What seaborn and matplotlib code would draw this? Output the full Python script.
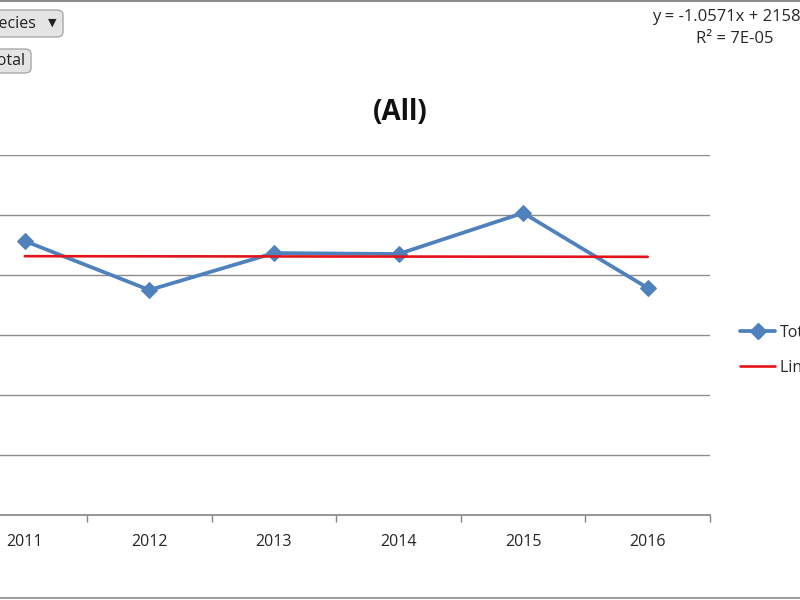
import numpy as np
import pandas as pd
import matplotlib.pyplot as plt
import seaborn as sns
from matplotlib.patches import FancyBboxPatch
from matplotlib.lines import Line2D

years = ["2011", "2012", "2013", "2014", "2015", "2016"]
totals = [2283, 1875, 2183, 2175, 2517, 1892]
y_ticks = [0, 500, 1000, 1500, 2000, 2500, 3000]

df = pd.DataFrame({"year": years, "total": totals, "pos": np.arange(len(years))})
# linear trend as Excel fits it (x = 1..n)
slope, intercept = np.polyfit(np.arange(1, len(totals) + 1), totals, 1)
df["trend"] = intercept + slope * (df["pos"] + 1)

sns.set_style("white")
plt.rcParams["font.family"] = ["Open Sans", "DejaVu Sans"]

fig = plt.figure(figsize=(8, 6), dpi=100)
ax = fig.add_axes([-37.5 / 800, 1 - 515 / 600, 747.5 / 800, 360 / 600])

sns.lineplot(data=df, x="pos", y="total", ax=ax, color="#4F81BD", linewidth=2.7,
             marker="D", markersize=8, markeredgecolor="#4F81BD", label="Total", zorder=3)
sns.lineplot(data=df, x="pos", y="trend", ax=ax, color="#E3151A", linewidth=1.9,
             label="Linear (Total)", zorder=4)

ax.set_xlim(-0.5, len(years) - 0.5)
ax.set_ylim(y_ticks[0], y_ticks[-1])
ax.set_yticks(y_ticks)
ax.set_yticklabels([])
ax.tick_params(axis="y", length=0)
ax.grid(axis="y", color="#8c8c8c", linewidth=1.0)
ax.set_axisbelow(True)

ax.set_xticks(np.arange(-0.5, len(years)))
ax.set_xticklabels([])
ax.set_xticks(np.arange(len(years)), minor=True)
ax.set_xticklabels(years, minor=True, fontsize=11.5, color="#262626")
ax.tick_params(axis="x", which="major", length=5, width=1, color="#868686", direction="out", bottom=True)
ax.tick_params(axis="x", which="minor", length=0, pad=14)
ax.set_xlabel("")
ax.set_ylabel("")
for s in ["top", "left", "right"]:
    ax.spines[s].set_visible(False)
ax.spines["bottom"].set_color("#868686")
ax.spines["bottom"].set_linewidth(1.2)
ax.get_legend().remove()

fig.text(0.5, 1 - 113 / 600, "(All)", ha="center", va="center", fontsize=20, fontweight="bold",
         color="#111111")
fig.text(652 / 800, 1 - 17 / 600, "y = -1.0571x + 2158.6", ha="left", va="center", fontsize=12,
         color="#262626")
fig.text(735 / 800, 1 - 39 / 600, "R² = 7E-05", ha="center", va="center", fontsize=12, color="#262626")

handles = [Line2D([], [], color="#4F81BD", linewidth=2.7, marker="D", markersize=8),
           Line2D([], [], color="#E3151A", linewidth=1.9)]
fig.legend(handles, ["Total", "Linear (Total)"], loc="upper left",
           bbox_to_anchor=(740 / 800, 1 - 325 / 600), frameon=False, fontsize=11.5,
           handlelength=2.2, handletextpad=0.3, labelspacing=1.15, borderpad=0, borderaxespad=0,
           labelcolor="#262626")

# pivot field buttons (cropped at left edge)
for (x0, y0, w, h, label, xr) in [(-40, 10, 103, 27, "Species", 36), (-40, 49, 71, 24, "Total", 26)]:
    fig.patches.append(FancyBboxPatch((x0 / 800, 1 - (y0 + h) / 600), w / 800, h / 600,
                                      boxstyle="round,pad=0,rounding_size=0.008",
                                      transform=fig.transFigure, facecolor="#e4e4e4",
                                      edgecolor="#a8a8a8", linewidth=1))
    fig.text(xr / 800, 1 - (y0 + h / 2) / 600, label, ha="right", va="center", fontsize=11.5,
             color="#222222")
fig.text(52 / 800, 1 - 23 / 600, "▼", ha="center", va="center", fontsize=8,
         family=["DejaVu Sans"], color="#222222")

# chart border lines visible at top and bottom
fig.add_artist(Line2D([0, 1], [0.999, 0.999], transform=fig.transFigure, color="#8c8c8c", linewidth=1.5))
fig.add_artist(Line2D([0, 1], [0.004, 0.004], transform=fig.transFigure, color="#8c8c8c", linewidth=1.2))

fig.savefig("out.png", dpi=100)
